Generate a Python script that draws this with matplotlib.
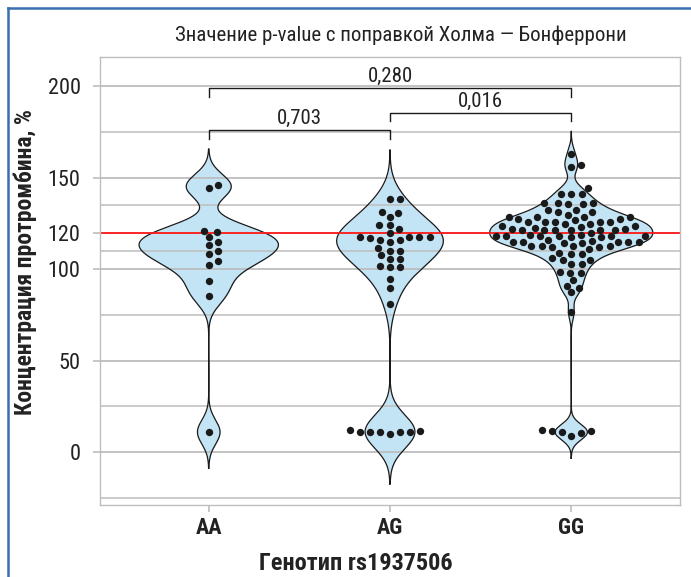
import numpy as np
import matplotlib
matplotlib.use('Agg')
import matplotlib.pyplot as plt
from matplotlib.lines import Line2D
from matplotlib import font_manager

genotypes = ['AA', 'AG', 'GG']

aa_values = [144.6, 146.0, 121.1, 120.2, 117.6, 115.1, 113.5, 110.0, 108.4,
             104.4, 102.3, 93.3, 85.2, 10.9]

ag_values = [138.2, 138.2, 131.0, 131.1, 128.6, 124.0, 124.0, 122.0, 117.6,
             117.6, 117.6, 119.8, 115.8, 114.7, 116.2, 117.0, 117.6, 111.6,
             110.0, 110.0, 107.8, 105.6, 105.6, 101.9, 101.0, 101.0, 94.7,
             89.8, 81.2,
             12.2, 11.5, 11.1, 11.1, 9.7, 10.8, 11.1, 11.1]

gg_values = [163.2, 155.9, 156.9, 144.5, 141.4, 141.4, 141.4,
             136.2, 135.5, 136.2, 135.5, 136.2,
             132.6, 131.1, 132.6, 131.1,
             129.9, 128.6, 128.6, 127.5, 128.6, 126.8, 127.5, 128.6,
             125.9, 125.9, 125.0, 125.0, 125.9, 125.9, 123.9, 125.9,
             123.9, 122.8, 121.7, 121.7, 121.7, 122.2, 121.7, 122.2, 120.1,
             121.7, 121.7, 123.2,
             119.0, 118.0, 117.6, 118.0, 118.0, 118.0, 118.0, 117.4, 118.0, 119.0,
             115.8, 114.4, 114.9, 112.6, 115.3, 114.9, 114.9, 114.9, 112.6,
             112.6, 114.4, 114.9,
             112.0, 111.3, 112.6, 112.0,
             108.6, 109.1, 108.6, 105.9,
             105.3, 105.3, 103.1, 103.1,
             97.9, 97.9, 98.5,
             94.0, 89.8, 90.9,
             87.3, 76.6,
             11.5, 10.9, 8.9, 10.4, 11.5, 11.9]

groups = [aa_values, ag_values, gg_values]

p_labels = ['0,703', '0,016', '0,280']
p_pairs = [(0, 1), (1, 2), (0, 2)]
bracket_levels = [176, 185.5, 199]

major_ticks = [0, 50, 100, 120, 150, 200]
minor_ticks = [-25, 25, 75, 110, 135, 175]
ref_level = 120

title = 'Значение p-value с поправкой Холма — Бонферрони'
ylabel = 'Концентрация протромбина, %'
xlabel = 'Генотип rs1937506'

# prefer a narrow face if one is around
installed = {f.name for f in font_manager.fontManager.ttflist}
FONT = [f for f in ['Roboto Condensed', 'Liberation Sans Narrow', 'Roboto',
                    'Liberation Sans'] if f in installed] + ['DejaVu Sans']
plt.rcParams['font.family'] = FONT

GRID = '#bdbdbd'
FILL = '#c3e4f5'
INK = '#222222'


def bw_nrd0(x):
    x = np.asarray(x)
    hi = np.std(x, ddof=1)
    q75, q25 = np.percentile(x, [75, 25])
    lo = min(hi, (q75 - q25) / 1.34)
    return 0.9 * lo * len(x) ** -0.2


def kde(x, bw):
    x = np.asarray(x)
    grid = np.linspace(x.min() - 3 * bw, x.max() + 3 * bw, 512)
    d = np.exp(-0.5 * ((grid[:, None] - x[None, :]) / bw) ** 2).sum(axis=1)
    d /= len(x) * bw * np.sqrt(2 * np.pi)
    return grid, d


def swarm(ys, sx, sy):
    xs = np.zeros(len(ys))
    placed = []
    for i in np.argsort(ys):
        y = ys[i]
        cands = [0.0]
        for px, py in placed:
            dy = (y - py) / sy
            if abs(dy) < 1:
                off = sx * np.sqrt(1 - dy * dy)
                cands += [px + off, px - off]
        for c in sorted(cands, key=abs):
            if all(((c - px) / sx) ** 2 + ((y - py) / sy) ** 2 >= 0.999
                   for px, py in placed):
                xs[i] = c
                placed.append((c, y))
                break
    return xs


fig = plt.figure(figsize=(6.91, 5.77), dpi=100)
ax = fig.add_axes([0.1447, 0.1248, 0.8394, 0.776])
ax.set_xlim(0.4, 3.6)
ax.set_ylim(-29, 216)

positions = np.arange(1, len(genotypes) + 1)

# gridlines
for t in major_ticks:
    ax.axhline(t, color=GRID, lw=1.3, zorder=1.5)
for t in minor_ticks:
    ax.axhline(t, color=GRID, lw=1.1, zorder=1.5)

# violins (area-scaled, like ggplot default)
dens = [kde(g, bw_nrd0(g)) for g in groups]
dmax = max(d.max() for _, d in dens)
for pos, (grid, d) in zip(positions, dens):
    half = d / dmax * 0.45
    ax.fill_betweenx(grid, pos - half, pos + half, color=FILL, lw=0, zorder=1)
    ax.plot(np.r_[pos - half, (pos + half)[::-1], pos - half[0]],
            np.r_[grid, grid[::-1], grid[0]], color='#1a1a1a', lw=0.9, zorder=2)

ax.axhline(ref_level, color='#ff1a1a', lw=1.3, zorder=2.5)

# beeswarm points, laid out in pixels
fig.canvas.draw()
to_px = ax.transData
from_px = ax.transData.inverted()
for pos, g in zip(positions, groups):
    g = np.asarray(g)
    pts = to_px.transform(np.column_stack([np.full(len(g), pos), g]))
    offs = swarm(pts[:, 1], 10.3, 7.4)
    data = from_px.transform(np.column_stack([pts[:, 0] + offs, pts[:, 1]]))
    ax.plot(data[:, 0], data[:, 1], 'o', ms=5.3, color='#1a1a1a', mec='none',
            zorder=3)

# significance brackets
for (a, b), lab, lev in zip(p_pairs, p_labels, bracket_levels):
    xa, xb = positions[a], positions[b]
    ax.plot([xa, xa, xb, xb], [lev - 4.5, lev, lev, lev - 4.5], color='#1a1a1a',
            lw=1.0, zorder=3)
    ax.text((xa + xb) / 2, lev + 1.4, lab, ha='center', va='bottom',
            fontsize=15, color=INK)

ax.set_xticks(positions)
ax.set_xticklabels(genotypes, fontsize=16, fontweight='bold', color=INK)
ax.set_yticks(major_ticks)
ax.set_yticklabels([str(t) for t in major_ticks], fontsize=16, color=INK)
ax.tick_params(axis='both', color=GRID, length=5, width=1.2)
ax.tick_params(axis='y', pad=9)
ax.tick_params(axis='x', pad=4)
for s in ax.spines.values():
    s.set_color(GRID)
    s.set_linewidth(1.0)

ax.set_ylabel(ylabel, fontsize=17, fontweight='bold', color=INK)
ax.yaxis.set_label_coords(-0.108, 0.542)

fig.text(356 / 691, 1 - 563 / 577, xlabel, ha='center', va='center',
         fontsize=17.5, fontweight='bold', color=INK)
fig.text(401 / 691, 1 - 35 / 577, title, ha='center', va='center',
         fontsize=15, color=INK)

# blue frame on the left and top
frame = '#3a6fae'
fig.add_artist(Line2D([8 / 691, 8 / 691], [0, 1 - 8 / 577], color=frame,
                      lw=1.8, transform=fig.transFigure))
fig.add_artist(Line2D([8 / 691, 1], [1 - 8 / 577, 1 - 8 / 577], color=frame,
                      lw=1.8, transform=fig.transFigure))

fig.savefig('out.png', dpi=100)
